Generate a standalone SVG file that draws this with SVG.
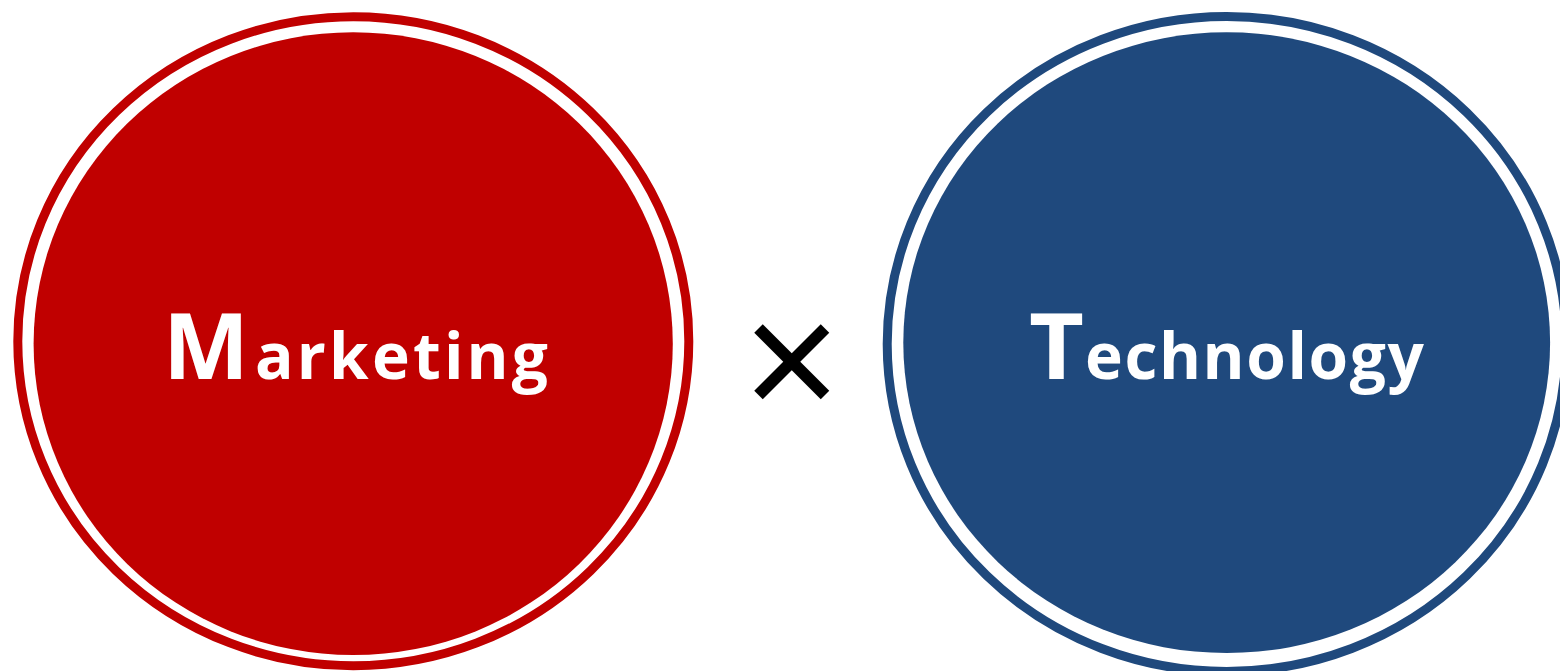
<svg xmlns="http://www.w3.org/2000/svg" width="1560" height="671" viewBox="0 0 1560 671">
  <style>
    .ring { fill: none; stroke-width: 9; }
    .lbl { font-family: "Open Sans", Lato, "Liberation Sans", sans-serif; font-weight: bold; fill: #FFFFFF; font-variant-ligatures: none; }
    .big { font-size: 92px; }
    .small { font-size: 64px; }
    .red { stroke: #C00000; }
    .blue { stroke: #1F497D; }
  </style>
  <rect width="1560" height="671" fill="#FFFFFF"/>
  <g id="marketing">
    <ellipse class="ring red" cx="353.3" cy="341.2" rx="335.5" ry="324.5"/>
    <ellipse cx="353.2" cy="343.7" rx="319.6" ry="311.4" fill="#C00000"/>
    <text class="lbl" y="379"><tspan class="big" x="163" textLength="86" lengthAdjust="spacingAndGlyphs">M</tspan><tspan class="small" x="255" textLength="293" lengthAdjust="spacing">arketing</tspan></text>
  </g>
  <g id="connectors">
    <g stroke="#000000" stroke-width="12" stroke-linecap="butt">
      <line x1="758.5" y1="328.5" x2="825" y2="395"/>
      <line x1="825" y1="328.5" x2="758.5" y2="395"/>
    </g>
  </g>
  <g id="technology">
    <ellipse class="ring blue" cx="1226.7" cy="344" rx="339.5" ry="327.5"/>
    <ellipse cx="1226.7" cy="342.7" rx="323.4" ry="310.4" fill="#1F497D"/>
    <text class="lbl" y="379"><tspan class="big" x="1029" textLength="55" lengthAdjust="spacingAndGlyphs">T</tspan><tspan class="small" x="1085" textLength="339" lengthAdjust="spacing">echnology</tspan></text>
  </g>
</svg>
